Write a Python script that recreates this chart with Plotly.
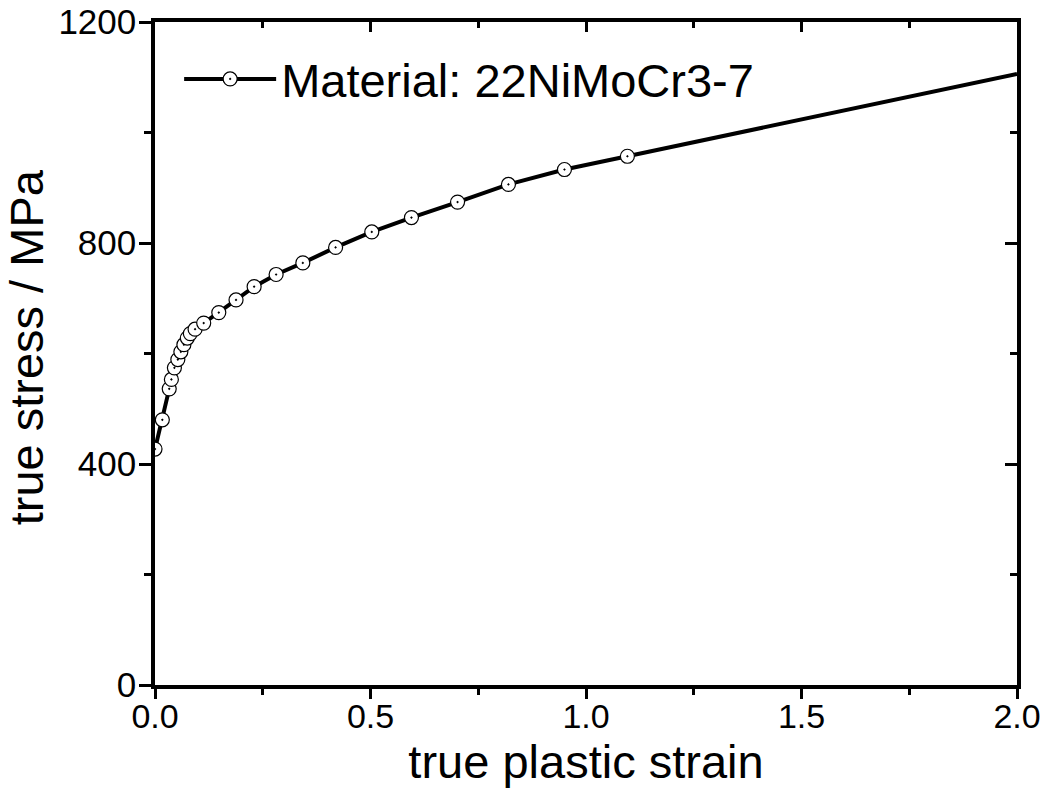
import plotly.graph_objects as go

# true plastic strain (marked points) and true stress in MPa
strain = [0.0, 0.017, 0.033, 0.038, 0.045, 0.053, 0.060, 0.067, 0.075, 0.082,
          0.093, 0.113, 0.148, 0.188, 0.230, 0.281, 0.343, 0.419, 0.503, 0.595,
          0.702, 0.820, 0.950, 1.096]
stress = [427, 480, 536, 553, 574, 589, 603, 616, 628, 636,
          644, 655, 674, 697, 721, 743, 764, 792, 820, 846,
          874, 906, 933, 957]
# extrapolated end of the curve (no marker)
strain_ext = [1.096, 2.0]
stress_ext = [957, 1106]

series_name = "Material: 22NiMoCr3-7"
x_title = "true plastic strain"
y_title = "true stress / MPa"
x_ticks = [0.0, 0.5, 1.0, 1.5, 2.0]
y_ticks = [0, 400, 800, 1200]

FONT = "Arial, Liberation Sans, sans-serif"

fig = go.Figure()
fig.add_trace(go.Scatter(
    x=strain_ext, y=stress_ext, mode="lines",
    line=dict(color="black", width=4), showlegend=False, hoverinfo="skip"))
fig.add_trace(go.Scatter(
    x=strain, y=stress, mode="lines+markers", name=series_name,
    line=dict(color="black", width=4),
    marker=dict(symbol="circle-dot", size=14, color="white",
                line=dict(color="black", width=1.2))))
# empty trace so the mirrored (top/right) axes are drawn
fig.add_trace(go.Scatter(x=[], y=[], xaxis="x2", yaxis="y2", showlegend=False))

common = dict(showline=True, linecolor="black", linewidth=3.5, mirror=False,
              showgrid=False, zeroline=False, tickcolor="black", tickwidth=3,
              automargin=False, ticklabeloverflow="allow")

fig.update_layout(
    width=1045, height=789,
    margin=dict(l=155, r=28, t=22, b=104, pad=0),
    paper_bgcolor="white", plot_bgcolor="white",
    font=dict(family=FONT, color="black"),
    showlegend=True,
    legend=dict(x=0.028, y=0.970, xanchor="left", yanchor="top",
                bgcolor="rgba(0,0,0,0)", borderwidth=0,
                font=dict(size=47, family=FONT, color="black"),
                itemwidth=92),
    xaxis=dict(range=[0, 2], tickvals=x_ticks, tickformat=".1f",
               ticks="outside", ticklen=10, ticklabelstandoff=-12,
               minor=dict(dtick=0.25, ticks="outside", ticklen=6,
                          tickcolor="black", tickwidth=3),
               tickfont=dict(size=34, family=FONT),
               title=dict(text=x_title, font=dict(size=47, family=FONT),
                          standoff=4),
               **common),
    yaxis=dict(range=[0, 1200], tickvals=y_ticks,
               ticks="outside", ticklen=12, ticklabelstandoff=-4,
               minor=dict(dtick=200, ticks="outside", ticklen=7,
                          tickcolor="black", tickwidth=3),
               tickfont=dict(size=35, family=FONT),
               **common),
    xaxis2=dict(range=[0, 2], overlaying="x", side="top", anchor="y",
                tickvals=x_ticks, ticks="inside", ticklen=10,
                showticklabels=False,
                minor=dict(dtick=0.25, ticks="inside", ticklen=6,
                           tickcolor="black", tickwidth=3),
                **common),
    yaxis2=dict(range=[0, 1200], overlaying="y", side="right", anchor="x",
                tickvals=y_ticks, ticks="inside", ticklen=12,
                showticklabels=False,
                minor=dict(dtick=200, ticks="inside", ticklen=7,
                           tickcolor="black", tickwidth=3),
                **common),
    annotations=[dict(text=y_title, textangle=-90, showarrow=False,
                      xref="paper", yref="paper", x=-0.1495, y=0.5095,
                      xanchor="center", yanchor="middle",
                      font=dict(size=47, family=FONT, color="black"))],
)

# remove the page's default body margin so the figure fills the window exactly
fig.write_html("out.html",
               config={"displayModeBar": False},
               post_script="document.body.style.margin='0';"
                           "document.body.style.overflow='hidden';")
